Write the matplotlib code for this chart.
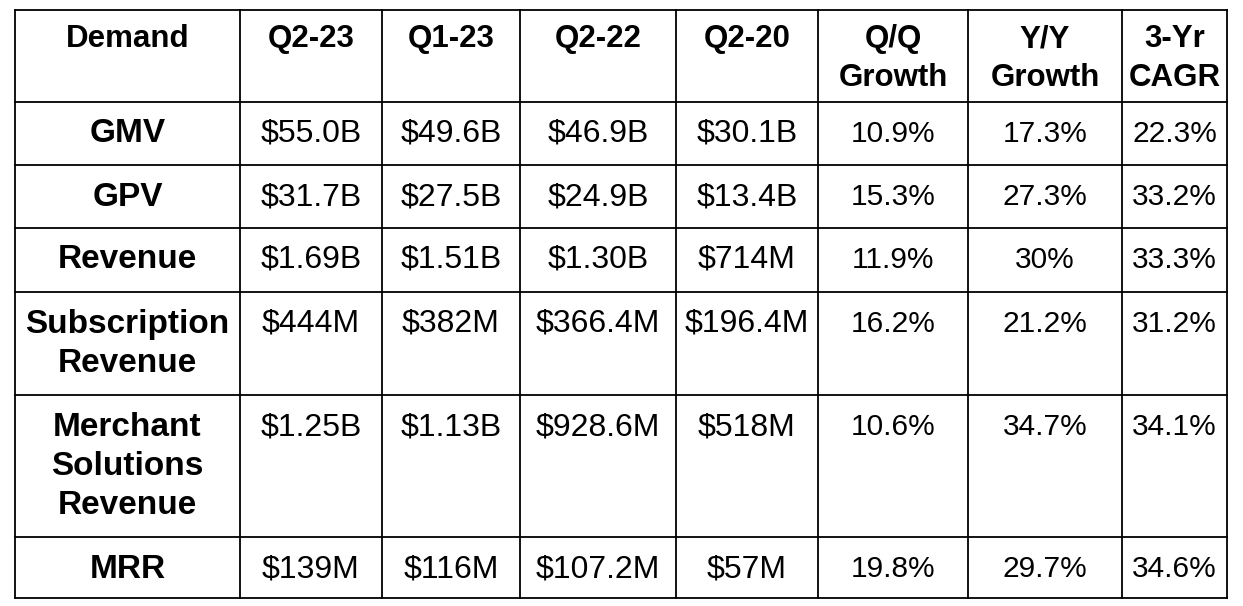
import matplotlib
matplotlib.use("Agg")
import matplotlib.pyplot as plt

headers = ["Demand", "Q2-23", "Q1-23", "Q2-22", "Q2-20", "Q/Q\nGrowth", "Y/Y\nGrowth", "3-Yr\nCAGR"]
metrics = ["GMV", "GPV", "Revenue", "Subscription\nRevenue", "Merchant\nSolutions\nRevenue", "MRR"]
q2_23 = ["$55.0B", "$31.7B", "$1.69B", "$444M", "$1.25B", "$139M"]
q1_23 = ["$49.6B", "$27.5B", "$1.51B", "$382M", "$1.13B", "$116M"]
q2_22 = ["$46.9B", "$24.9B", "$1.30B", "$366.4M", "$928.6M", "$107.2M"]
q2_20 = ["$30.1B", "$13.4B", "$714M", "$196.4M", "$518M", "$57M"]
qq_growth = ["10.9%", "15.3%", "11.9%", "16.2%", "10.6%", "19.8%"]
yy_growth = ["17.3%", "27.3%", "30%", "21.2%", "34.7%", "29.7%"]
cagr_3yr = ["22.3%", "33.2%", "33.3%", "31.2%", "34.1%", "34.6%"]

# pixel grid of the table
col_edges = [15, 240, 382, 520, 676, 818, 968, 1122, 1227]
row_edges = [10, 102, 165, 228, 292, 395, 537, 598]

fig = plt.figure(figsize=(12.43, 6.06), dpi=100)
ax = fig.add_axes([0, 0, 1, 1])
ax.set_xlim(0, 1243)
ax.set_ylim(606, 0)
ax.axis("off")

for x in col_edges:
    ax.plot([x, x], [row_edges[0], row_edges[-1]], color="black", lw=1.3)
for y in row_edges:
    ax.plot([col_edges[0], col_edges[-1]], [y, y], color="black", lw=1.3)

font = "Liberation Sans"
step = 39.5

def cell(text, ci, ri, bold, size):
    cx = (col_edges[ci] + col_edges[ci + 1]) / 2
    y0 = row_edges[ri] + (29 if ri == 0 else 32)
    for i, line in enumerate(text.split("\n")):
        ax.text(cx, y0 + i * step, line, ha="center", va="center",
                fontsize=size, family=font,
                fontweight="bold" if bold else "normal")

for ci, h in enumerate(headers):
    cell(h, ci, 0, True, 22.5)

columns = [q2_23, q1_23, q2_22, q2_20, qq_growth, yy_growth, cagr_3yr]
for ri, m in enumerate(metrics):
    cell(m, 0, ri + 1, True, 24)
    for ci, col in enumerate(columns):
        cell(col[ri], ci + 1, ri + 1, False, 23 if ci < 4 else 21.5)

fig.savefig("out.png", dpi=100, facecolor="white")
